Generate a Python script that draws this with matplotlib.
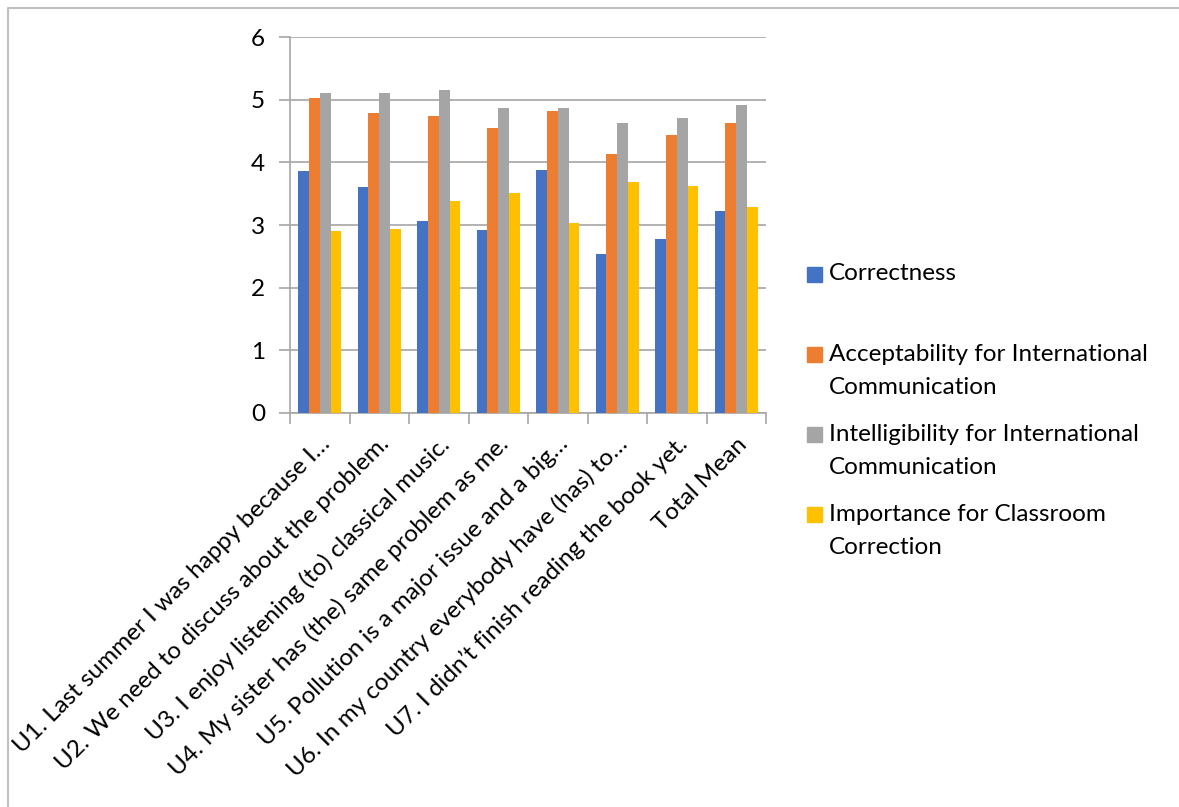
import textwrap
import matplotlib.pyplot as plt
import matplotlib.transforms as mtransforms
from matplotlib.lines import Line2D
from matplotlib.patches import Rectangle
import numpy as np

# mean ratings per sentence
categories = [
    "U1. Last summer I was happy because I…",
    "U2. We need to discuss about the problem.",
    "U3. I enjoy listening (to) classical music.",
    "U4. My sister has (the) same problem as me.",
    "U5. Pollution is a major issue and a big…",
    "U6. In my country everybody have (has) to…",
    "U7. I didn’t finish reading the book yet.",
    "Total Mean",
]
series_names = [
    "Correctness",
    "Acceptability for International Communication",
    "Intelligibility for International Communication",
    "Importance for Classroom Correction",
]
correctness = [3.86, 3.61, 3.07, 2.92, 3.88, 2.54, 2.78, 3.23]
acceptability = [5.02, 4.79, 4.74, 4.55, 4.82, 4.14, 4.44, 4.63]
intelligibility = [5.11, 5.11, 5.16, 4.86, 4.86, 4.62, 4.70, 4.92]
importance = [2.91, 2.94, 3.39, 3.51, 3.03, 3.69, 3.63, 3.29]
yticks = [0, 1, 2, 3, 4, 5, 6]

colors = ["#4472C4", "#ED7D31", "#A5A5A5", "#FFC000"]
values = [correctness, acceptability, intelligibility, importance]
fs = 17.5

plt.rcParams['font.family'] = ['Lato', 'DejaVu Sans']
W, H = 1179, 807
fig = plt.figure(figsize=(W / 100, H / 100), dpi=100)
ax = fig.add_axes([290 / W, 1 - 413 / H, 476 / W, 376 / H])

x = np.arange(len(categories))
bw = 0.182
for i, (vals, c) in enumerate(zip(values, colors)):
    ax.bar(x + (i - 1.5) * bw, vals, bw, color=c, linewidth=0, zorder=3)

ax.set_xlim(-0.5, len(categories) - 0.5)
ax.set_ylim(0, 6)
ax.set_yticks(yticks)
ax.yaxis.grid(True, color="#a6a6a6", linewidth=1.2, zorder=0)
for s in ["top", "right"]:
    ax.spines[s].set_visible(False)
for s in ["left", "bottom"]:
    ax.spines[s].set_color("#a6a6a6")
    ax.spines[s].set_linewidth(1.2)

# category boundaries carry the tick marks
ax.set_xticks(np.arange(len(categories) + 1) - 0.5, minor=False)
ax.set_xticklabels([])
ax.tick_params(axis="x", which="major", length=8, color="#a6a6a6", width=1.2)
ax.set_xticks(x, minor=True)
ax.set_xticklabels(categories, minor=True, rotation=45, ha="right",
                   va="center", rotation_mode="anchor", fontsize=fs)
ax.tick_params(axis="x", which="minor", length=0, pad=20)
shift = mtransforms.ScaledTranslation(0.07, 0, fig.dpi_scale_trans)
for lab in ax.get_xticklabels(minor=True):
    lab.set_transform(lab.get_transform() + shift)

ax.tick_params(axis="y", length=8, color="#a6a6a6", width=1.2, pad=10,
               labelsize=fs)

# legend drawn in figure pixels
for i, (name, c) in enumerate(zip(series_names, colors)):
    y0 = 274 + 80.3 * i
    fig.add_artist(Rectangle((807 / W, 1 - (y0 + 7.5) / H), 15 / W, 15 / H,
                             transform=fig.transFigure, color=c))
    for j, line in enumerate(textwrap.wrap(name, 33)):
        fig.text(829 / W, 1 - (y0 + 33 * j) / H, line, fontsize=fs,
                 va="center", ha="left")

# chart frame
fig.add_artist(Line2D([8 / W, 8 / W, 1], [0, 1 - 8 / H, 1 - 8 / H],
                      transform=fig.transFigure, color="#bfbfbf", linewidth=1.5))

fig.savefig("out.png", dpi=100)
